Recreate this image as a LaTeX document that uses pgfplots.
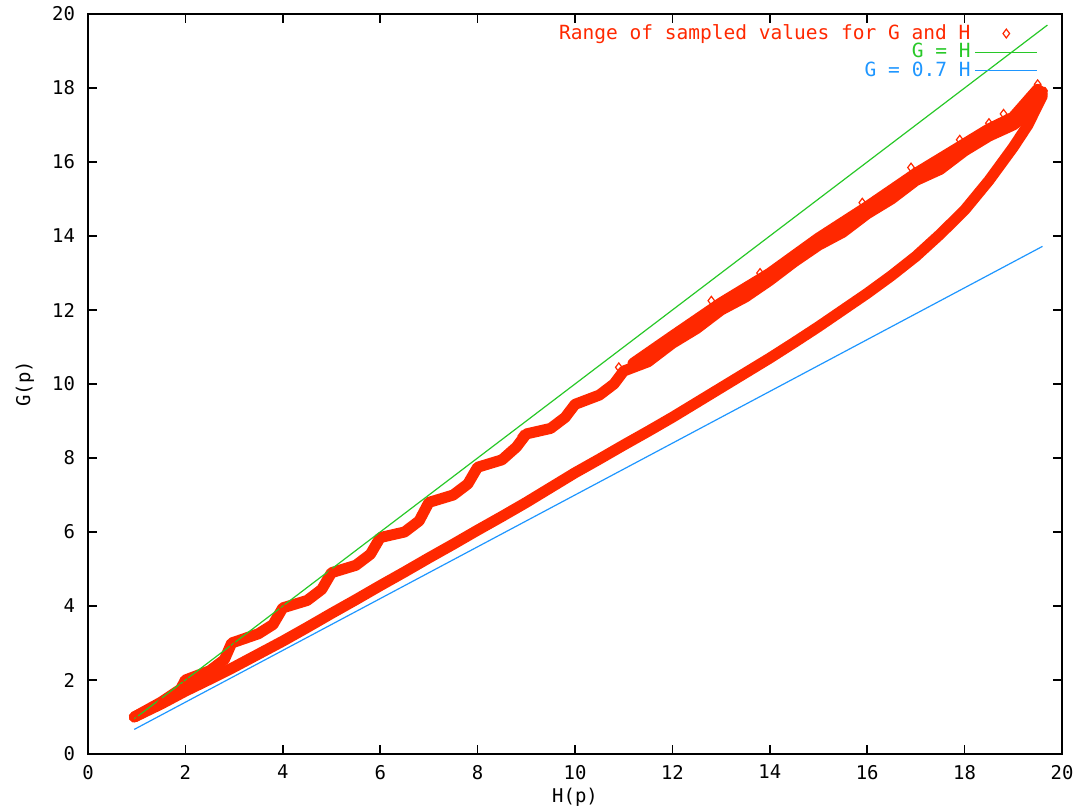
\documentclass[border=0pt]{standalone}
\usepackage{pgfplots}
\pgfplotsset{compat=1.18}
\usepackage{fontspec}
\setmainfont{DejaVu Sans Mono}
\definecolor{gpred}{RGB}{255,40,0}
\definecolor{gpgreen}{RGB}{40,200,40}
\definecolor{gpblue}{RGB}{30,150,255}

% upper and lower branch of the sampled band
\pgfplotstableread{
H G
0.95 1.00
1.5 1.40
1.9 1.75
2.0 2.00
2.5 2.25
2.8 2.55
2.95 3.00
3.5 3.25
3.8 3.50
4.0 3.95
4.5 4.15
4.8 4.45
5.0 4.90
5.5 5.10
5.8 5.40
6.0 5.85
6.5 6.00
6.8 6.30
7.0 6.80
7.5 7.00
7.8 7.30
8.0 7.75
8.5 7.95
8.8 8.30
9.0 8.65
9.5 8.80
9.8 9.10
10.0 9.45
10.5 9.70
10.8 10.00
11.0 10.35
11.5 10.60
12.0 11.10
12.5 11.50
13.0 12.00
13.5 12.35
14.0 12.80
14.5 13.30
15.0 13.75
15.5 14.10
16.0 14.60
16.5 15.00
17.0 15.50
17.5 15.80
18.0 16.30
18.5 16.70
19.0 17.00
19.3 17.30
19.6 17.90
}\upperbr
% upper edge of the upper branch, where the band widens
\pgfplotstableread{
H G
11.2 10.55
12.0 11.28
13.0 12.18
14.0 12.98
15.0 13.93
16.0 14.78
17.0 15.68
18.0 16.48
18.5 16.88
19.0 17.20
19.5 17.95
}\upperedge
\pgfplotstableread{
H G
0.95 1.00
1.5 1.35
2.0 1.70
2.5 2.02
3.0 2.35
3.5 2.70
4.0 3.05
4.5 3.42
5.0 3.80
5.5 4.17
6.0 4.55
6.5 4.92
7.0 5.30
7.5 5.67
8.0 6.05
8.5 6.42
9.0 6.80
9.5 7.20
10.0 7.60
10.5 7.97
11.0 8.35
11.5 8.72
12.0 9.10
12.5 9.50
13.0 9.90
13.5 10.30
14.0 10.70
14.5 11.12
15.0 11.55
15.5 12.00
16.0 12.45
16.5 12.93
17.0 13.45
17.5 14.05
18.0 14.70
18.5 15.50
19.0 16.40
19.3 17.00
19.6 17.80
}\lowerbr
\pgfplotstableread{
H G
8.9 8.60
10.9 10.45
12.8 12.25
13.8 13.00
14.5 13.45
15.9 14.90
16.9 15.85
17.9 16.60
18.5 17.05
18.8 17.30
19.2 17.45
19.5 18.10
}\outerpts

\begin{document}
\begin{tikzpicture}
\path[use as bounding box] (-44bp,-28bp) rectangle (499bp,377bp);
\begin{axis}[
  scale only axis,
  width=487bp, height=370bp,
  xmin=0, xmax=20, ymin=0, ymax=20,
  xtick={0,2,...,20}, ytick={0,2,...,20},
  tick align=inside,
  major tick length=4.5bp,
  axis line style={line width=1bp},
  tick style={black, line width=0.8bp},
  font=\fontsize{9.5}{11}\selectfont,
  /pgf/number format/assume math mode=true,
  xticklabel style={yshift=-2bp},
  yticklabel style={xshift=-3bp},
  xlabel={H(p)}, ylabel={G(p)},
  xlabel style={anchor=center, at={(axis description cs:0.5,-0.058)}},
  ylabel style={anchor=center, at={(axis description cs:-0.0647,0.5)}},
  legend style={draw=none, fill=none, at={(0.982,0.997)}, anchor=north east,
    cells={anchor=east}, legend plot pos=right, row sep=-3.5bp,
    font=\fontsize{9.8}{11}\selectfont},
  legend image code/.code={\draw[mark repeat=2,mark phase=2,#1] plot coordinates {(0cm,0cm) (0.55cm,0cm) (1.1cm,0cm)};},
]
\addplot[gpred, line width=6bp, line join=round, line cap=round, forget plot] table {\upperedge};
\addplot[gpred, line width=5.5bp, line join=round, line cap=round, forget plot] table {\upperbr};
\addplot[gpred, line width=5.5bp, line join=round, line cap=round, forget plot] table {\lowerbr};
\addplot[gpred, only marks, mark=diamond, mark size=2.2bp, line width=0.6bp] table {\upperbr};
\addplot[gpred, only marks, mark=diamond, mark size=2.2bp, line width=0.6bp, forget plot] table {\lowerbr};
\addplot[gpred, only marks, mark=diamond, mark size=2.2bp, line width=0.6bp, forget plot] table {\outerpts};
\addlegendentry{\textcolor{gpred}{Range of sampled values for G and H}}
\addplot[gpgreen, line width=0.6bp] coordinates {(0.95,0.95) (19.7,19.7)};
\addlegendentry{\textcolor{gpgreen}{G = H}}
\addplot[gpblue, line width=0.6bp] coordinates {(0.95,0.665) (19.6,13.72)};
\addlegendentry{\textcolor{gpblue}{G = 0.7 H}}
\end{axis}
\end{tikzpicture}
\end{document}
